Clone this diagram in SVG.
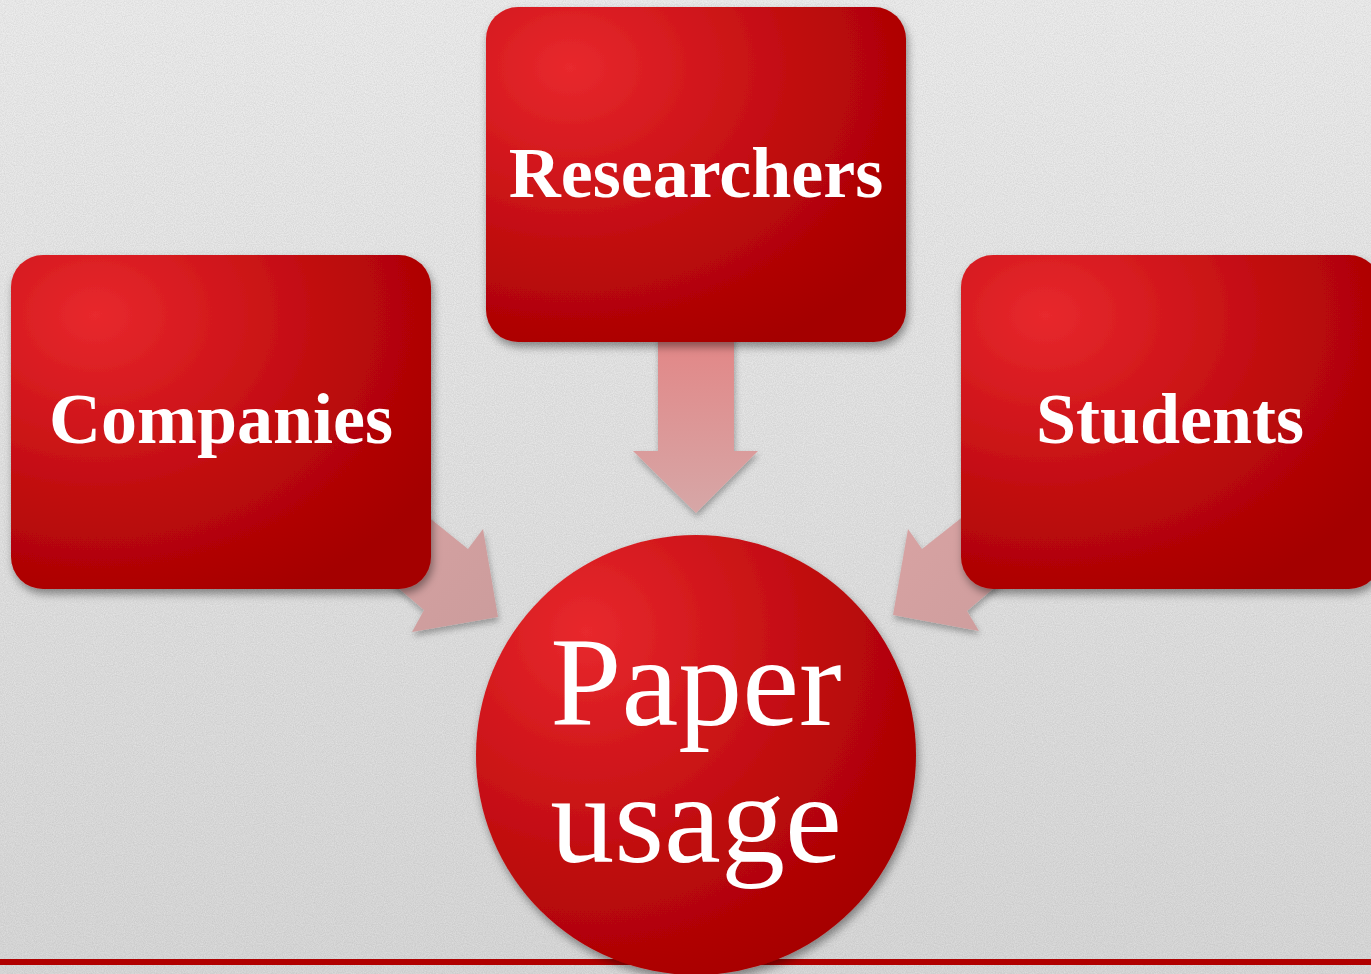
<svg xmlns="http://www.w3.org/2000/svg" width="1371" height="974" viewBox="0 0 1371 974">
<defs>
<linearGradient id="bg" x1="0" y1="0" x2="0" y2="1">
<stop offset="0" stop-color="#f4f4f4"/>
<stop offset="1" stop-color="#e0e0e0"/>
</linearGradient>
<filter id="noise" x="0" y="0" width="100%" height="100%">
<feTurbulence type="fractalNoise" baseFrequency="0.9" numOctaves="2" seed="3" result="n"/>
<feColorMatrix in="n" type="matrix" values="0 0 0 0 0  0 0 0 0 0  0 0 0 0 0  0 0 0 0.12 0" result="a"/>
<feComposite in="a" in2="SourceGraphic" operator="in"/>
</filter>
<radialGradient id="red" cx="0.2" cy="0.18" r="0.95" fx="0.2" fy="0.18">
<stop offset="0" stop-color="#e8292d"/>
<stop offset="0.35" stop-color="#d0161b"/>
<stop offset="0.7" stop-color="#b70709"/>
<stop offset="1" stop-color="#a40000"/>
</radialGradient>
<radialGradient id="redc" cx="0.25" cy="0.22" r="0.9" fx="0.25" fy="0.22">
<stop offset="0" stop-color="#e8292d"/>
<stop offset="0.35" stop-color="#d0161b"/>
<stop offset="0.7" stop-color="#b70709"/>
<stop offset="1" stop-color="#a40000"/>
</radialGradient>
<linearGradient id="arrV" x1="0" y1="0" x2="0" y2="1">
<stop offset="0" stop-color="#e38585"/>
<stop offset="1" stop-color="#d6a7a7"/>
</linearGradient>
<linearGradient id="arrS" x1="0" y1="0" x2="1" y2="1">
<stop offset="0" stop-color="#dba4a4"/>
<stop offset="1" stop-color="#cb9c9c"/>
</linearGradient>
<filter id="sh" x="-10%" y="-10%" width="125%" height="125%">
<feDropShadow dx="2" dy="5" stdDeviation="4" flood-color="#000" flood-opacity="0.4"/>
</filter>
<filter id="ash" x="-10%" y="-10%" width="125%" height="125%">
<feDropShadow dx="1" dy="4" stdDeviation="3" flood-color="#000" flood-opacity="0.3"/>
</filter>
<style>
.box{fill:url(#red);filter:url(#sh)}
.lbl{font-family:"Liberation Serif","Times New Roman",serif;font-weight:bold;font-size:72px;fill:#fff;text-anchor:middle}
.big{font-family:"Liberation Serif","Times New Roman",serif;font-size:128px;fill:#fff;text-anchor:middle}
</style>
</defs>
<rect width="1371" height="974" fill="url(#bg)"/>
<rect width="1371" height="974" fill="#888" filter="url(#noise)"/>
<rect x="0" y="959" width="1371" height="6" fill="#b00000"/>
<g id="connectors">
<path d="M658,330 L734,330 L734,451 L758,451 L696,513 L633,451 L658,451 Z" fill="url(#arrV)" filter="url(#ash)"/>
<path d="M370,470 L468,549 L483,529 L498,617 L412,632 L424,610 L330,530 Z" fill="url(#arrS)" filter="url(#ash)"/>
<path d="M1022,470 L922,549 L908,529 L893,615 L979,631 L967,611 L1062,530 Z" fill="url(#arrS)" filter="url(#ash)"/>
</g>
<g id="researchers">
<rect class="box" x="486" y="7" width="420" height="335" rx="32"/>
<text class="lbl" x="696" y="197">Researchers</text>
</g>
<g id="companies">
<rect class="box" x="11" y="255" width="420" height="334" rx="32"/>
<text class="lbl" x="221" y="443">Companies</text>
</g>
<g id="students">
<rect class="box" x="961" y="255" width="420" height="334" rx="32"/>
<text class="lbl" x="1170" y="443">Students</text>
</g>
<g id="paper-usage">
<circle cx="696" cy="755" r="220" fill="url(#redc)" filter="url(#sh)"/>
<text class="big" x="696" y="725">Paper</text>
<text class="big" x="696" y="862">usage</text>
</g>
</svg>
